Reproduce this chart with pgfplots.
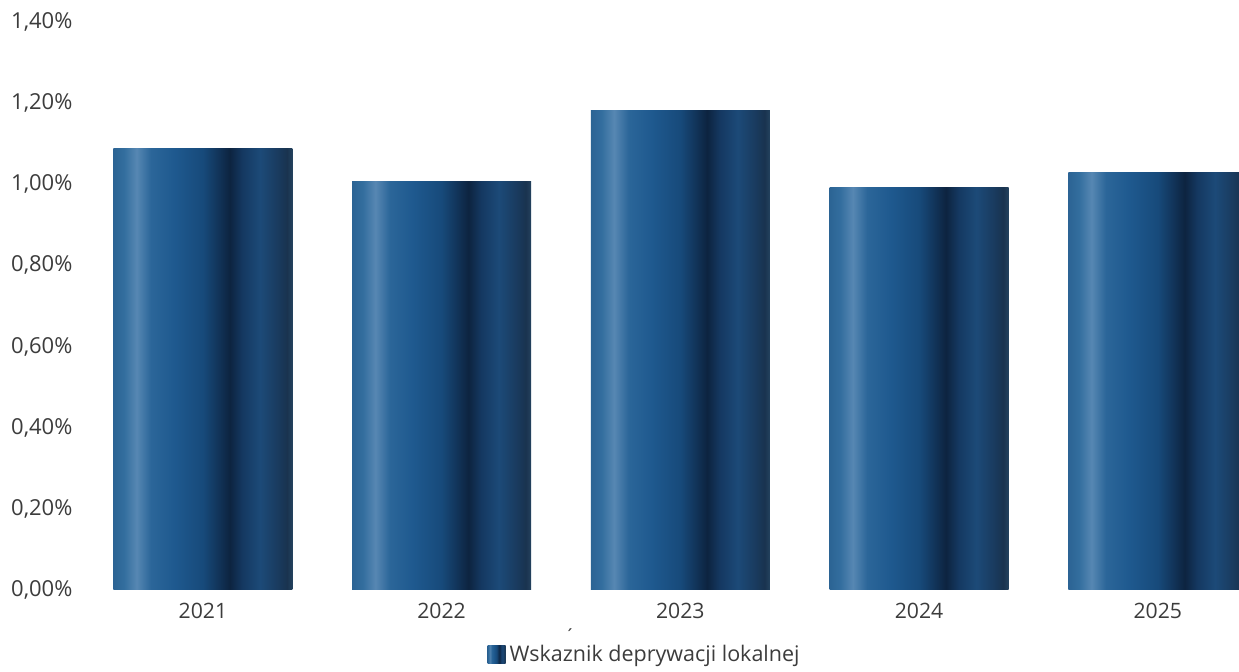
\documentclass[border=0pt]{standalone}
\usepackage{pgfplots}
\pgfplotsset{compat=1.18}
\usetikzlibrary{calc}
\usepackage{fontspec}
\setmainfont{Open Sans}
\definecolor{txt}{HTML}{3C3C3C}
\pgfdeclarehorizontalshading{barshade}{100bp}{
 rgb(0bp)=(0.17,0.39,0.58);
 rgb(25bp)=(0.17,0.39,0.58);
 rgb(28bp)=(0.20,0.43,0.62);
 rgb(31.5bp)=(0.34,0.53,0.70);
 rgb(35.5bp)=(0.17,0.40,0.60);
 rgb(42bp)=(0.12,0.35,0.56);
 rgb(50bp)=(0.09,0.29,0.48);
 rgb(54bp)=(0.07,0.21,0.36);
 rgb(57.5bp)=(0.05,0.14,0.25);
 rgb(61bp)=(0.08,0.22,0.38);
 rgb(66bp)=(0.11,0.29,0.47);
 rgb(71bp)=(0.10,0.23,0.37);
 rgb(73.5bp)=(0.10,0.20,0.31);
 rgb(75bp)=(0.14,0.26,0.37);
 rgb(100bp)=(0.14,0.26,0.37)}
\begin{document}
\begin{tikzpicture}
\begin{axis}[
  scale only axis,
  width=577.75pt, height=284pt,
  xmin=-0.5, xmax=4.34,
  ymin=0, ymax=1.4,
  clip mode=individual,
  no markers,
  ytick={0,0.2,0.4,0.6,0.8,1.0,1.2,1.4},
  xtick={0,1,2,3,4},
  xticklabels={2021,2022,2023,2024,2025},
  yticklabel={\pgfmathprintnumber[fixed,fixed zerofill,precision=2,use comma,assume math mode=true]{\tick}\%},
  /pgf/number format/assume math mode=true,
  axis line style={draw=none},
  major tick style={draw=none},
  tick label style={text=txt},
  yticklabel style={font=\fontsize{11}{12}\selectfont, xshift=-2pt},
  xticklabel style={font=\fontsize{10.6}{12}\selectfont, yshift=-3pt},
  legend style={at={(axis description cs:0.4865,-0.114)}, anchor=center, draw=none, fill=none,
    font=\fontsize{10.75}{12}\selectfont, text=txt, inner sep=0pt,
    /tikz/every even column/.append style={column sep=0pt}},
  legend image code/.code={\path[shade, shading=barshade] (-4pt,-4.5pt) rectangle (5pt,4.5pt);},
  every axis plot/.append style={ybar, bar width=0.75, bar shift=0pt, draw=none, mark=none, shade, shading=barshade},
]
\addplot coordinates {(0,1.087)};
\addlegendentry{Wskaznik deprywacji lokalnej}
\addplot[forget plot] coordinates {(1,1.006)};
\addplot[forget plot] coordinates {(2,1.183)};
\addplot[forget plot] coordinates {(3,0.993)};
\addplot[forget plot] coordinates {(4,1.028)};
\node[text=txt, font=\fontsize{9}{9}\selectfont, inner sep=0pt] at (axis description cs:0.421,-0.081) {´};
\coordinate (sw) at (axis description cs:0,0);
\end{axis}
\pgfresetboundingbox
\path[use as bounding box] ($(sw)+(-41.75pt,-41pt)$) rectangle ($(sw)+(577.75pt,295pt)$);
\end{tikzpicture}
\end{document}
